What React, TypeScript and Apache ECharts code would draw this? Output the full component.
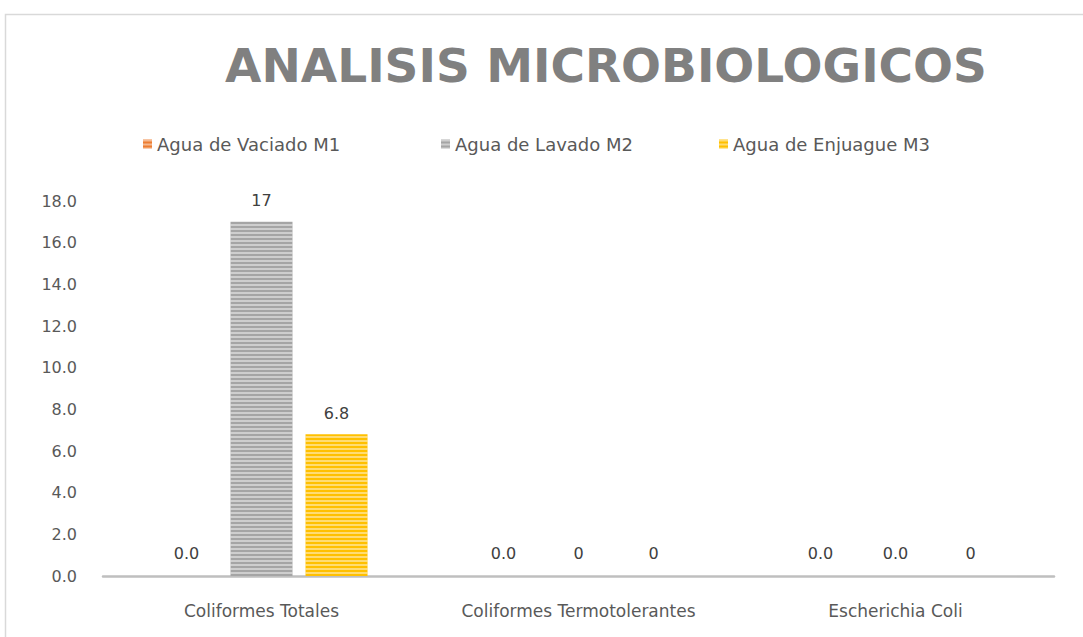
import React, { useEffect, useRef } from "react";
import * as echarts from "echarts";

const categories = ["Coliformes Totales", "Coliformes Termotolerantes", "Escherichia Coli"];
const seriesNames = ["Agua de Vaciado M1", "Agua de Lavado M2", "Agua de Enjuague M3"];
const m1Values = [0, 0, 0];
const m2Values = [17, 0, 0];
const m3Values = [6.8, 0, 0];
const m1Labels = ["0.0", "0.0", "0.0"];
const m2Labels = ["17", "0", "0.0"];
const m3Labels = ["6.8", "0", "0"];
const yTicks = { min: 0, max: 18, interval: 2 };

const colors = ["#ed7d31", "#a5a5a5", "#ffc000"];

export default function App() {
  const ref = useRef<HTMLDivElement>(null);
  useEffect(() => {
    document.body.style.margin = "0";
    const chart = echarts.init(ref.current!, undefined, { renderer: "svg" });
    const values = [m1Values, m2Values, m3Values];
    const labels = [m1Labels, m2Labels, m3Labels];
    const legendLefts = [138, 436, 714];
    const textFont = "'DejaVu Sans', 'Noto Sans', sans-serif";
    chart.setOption({
      animation: false,
      backgroundColor: "#ffffff",
      title: {
        text: "ANALISIS MICROBIOLOGICOS",
        left: 601,
        textAlign: "center",
        top: 37,
        textStyle: {
          fontFamily: "'DejaVu Sans', sans-serif",
          fontWeight: "bold",
          fontSize: 47,
          color: "#808080",
        },
      },
      graphic: [
        {
          type: "rect",
          shape: { x: 5.5, y: 14.5, width: 1100, height: 700 },
          style: { fill: "none", stroke: "#d9d9d9", lineWidth: 1.5 },
          silent: true,
        },
      ],
      legend: seriesNames.map((n, i) => ({
        data: [n],
        left: legendLefts[i],
        top: 130,
        itemWidth: 9,
        itemHeight: 9,
        itemGap: 5,
        icon: "rect",
        textStyle: { fontFamily: textFont, fontSize: 18, color: "#595959" },
      })),
      grid: { left: 103, right: 29, top: 201, bottom: 61 },
      xAxis: {
        type: "category",
        data: categories,
        axisLine: { lineStyle: { color: "#bfbfbf", width: 2.5 } },
        axisTick: { show: false },
        axisLabel: {
          fontFamily: textFont,
          fontSize: 17,
          color: "#595959",
          margin: 26,
        },
      },
      yAxis: {
        type: "value",
        min: yTicks.min,
        max: yTicks.max,
        interval: yTicks.interval,
        axisLine: { show: false },
        axisTick: { show: false },
        splitLine: { show: false },
        axisLabel: {
          fontFamily: textFont,
          fontSize: 16,
          color: "#595959",
          margin: 26,
          formatter: (v: number) => v.toFixed(1),
        },
      },
      series: seriesNames.map((n, i) => ({
        name: n,
        type: "bar",
        barWidth: 62,
        barGap: "21%",
        itemStyle: {
          color: colors[i],
          decal: {
            symbol: "rect",
            symbolSize: 1,
            dashArrayX: [1, 0],
            dashArrayY: [2, 2],
            rotation: 0,
            color: "rgba(255,255,255,0.45)",
          },
        },
        data: values[i].map((v, j) => ({
          value: v,
          label: {
            show: true,
            position: "top",
            distance: v === 0 ? 15 : 13,
            formatter: labels[i][j],
            fontFamily: textFont,
            fontSize: 16,
            color: "#404040",
          },
        })),
      })),
    });
    return () => chart.dispose();
  }, []);
  return <div ref={ref} style={{ width: 1083, height: 637 }} />;
}
